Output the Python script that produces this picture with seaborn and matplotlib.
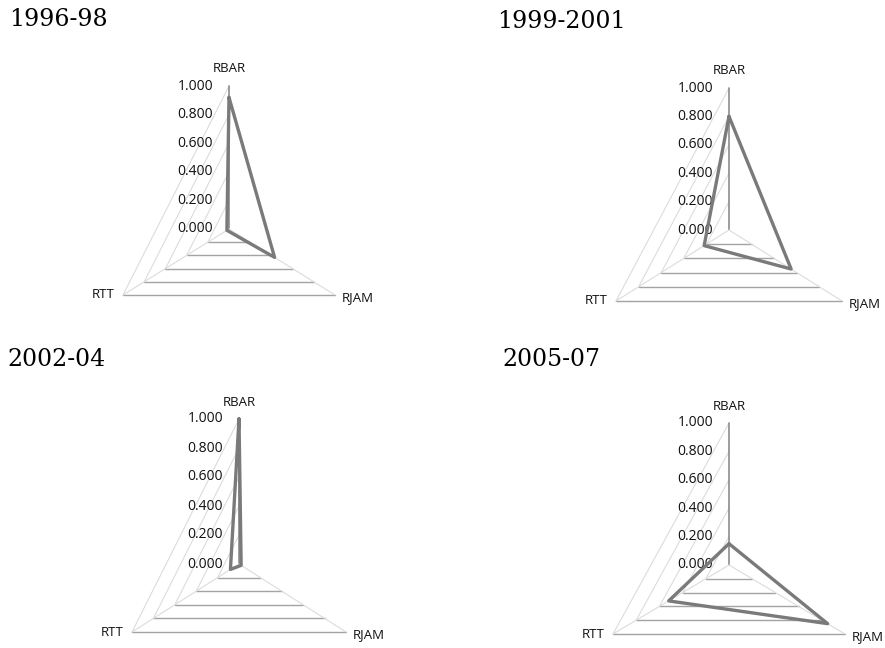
import numpy as np
import pandas as pd
import matplotlib
matplotlib.use("Agg")
import matplotlib.pyplot as plt
import seaborn as sns

sns.set_theme(style="white")
plt.rcParams["font.family"] = ["Open Sans", "DejaVu Sans"]

# ---- data ----
periods = ["1996-98", "1999-2001", "2002-04", "2005-07"]
axes_names = ["RBAR", "RJAM", "RTT"]
rbar = [0.92, 0.80, 1.00, 0.15]
rjam = [0.43, 0.55, 0.02, 0.85]
rtt = [0.02, 0.22, 0.08, 0.52]
ticks = [0.0, 0.2, 0.4, 0.6, 0.8, 1.0]

# ---- layout (pixels): centre, up length, side half-width, side drop ----
centres = [(229, 229), (729, 230), (239, 564), (729, 565)]
ups = [143, 142, 145, 142]
sides = [(106, 66), (113, 71), (107, 68), (116, 69)]
title_pos = [(9, 20), (497, 21), (7, 360), (502, 360)]

GRID_H = "#a3a3a3"
GRID_V = "#8c8c8c"
GRID_D = "#dcdcdc"
LINE = "#7a7a7a"
TXT = "#111111"

fig = plt.figure(figsize=(8.85, 6.48), dpi=100)
ax = fig.add_axes([0, 0, 1, 1])
ax.set_xlim(0, 885)
ax.set_ylim(648, 0)
ax.axis("off")


def project(c, up, side, vals):
    # vals ordered RBAR, RJAM, RTT
    cx, cy = c
    sx, sy = side
    xs = [cx, cx + vals[1] * sx, cx - vals[2] * sx]
    ys = [cy - vals[0] * up, cy + vals[1] * sy, cy + vals[2] * sy]
    return xs, ys


for i, name in enumerate(periods):
    c, up, side = centres[i], ups[i], sides[i]
    cx, cy = c

    # grid: bottom edges and left edges only (as in the original)
    for t in ticks[1:]:
        xs, ys = project(c, up, side, [t, t, t])
        ax.plot([xs[2], xs[1]], [ys[2], ys[1]], color=GRID_H, lw=1.0, zorder=1)
        ax.plot([xs[0], xs[2]], [ys[0], ys[2]], color=GRID_D, lw=0.8, zorder=1)

    # spokes
    xs, ys = project(c, up, side, [1, 1, 1])
    ax.plot([cx, xs[0]], [cy, ys[0]], color=GRID_V, lw=1.2, zorder=1)
    ax.plot([cx, xs[1]], [cy, ys[1]], color=GRID_D, lw=0.8, zorder=1)
    ax.plot([cx, xs[2]], [cy, ys[2]], color=GRID_D, lw=0.8, zorder=1)

    # axis labels
    ax.text(xs[0], ys[0] - 17, "RBAR", ha="center", va="center", fontsize=9.5, color=TXT)
    ax.text(xs[1] + 7, ys[1] + 3, "RJAM", ha="left", va="center", fontsize=9.5, color=TXT)
    ax.text(xs[2] - 8, ys[2], "RTT", ha="right", va="center", fontsize=9.5, color=TXT)

    # tick labels
    for t in ticks:
        ax.text(cx - 16, cy - t * up, f"{t:.3f}", ha="right", va="center",
                fontsize=10, color=TXT)

    # data polygon
    vals = [rbar[i], rjam[i], rtt[i]]
    xs, ys = project(c, up, side, vals)
    df = pd.DataFrame({"x": xs + xs[:1], "y": ys + ys[:1]})
    sns.lineplot(data=df, x="x", y="y", sort=False, estimator=None, ax=ax,
                 color=LINE, lw=2.4, zorder=3)

    # panel title
    tx, ty = title_pos[i]
    ax.text(tx, ty, name, ha="left", va="center", fontsize=17,
            family=["DejaVu Serif"], color="#000000")

ax.set_xlabel("")
ax.set_ylabel("")
fig.savefig("out.png", dpi=100)
